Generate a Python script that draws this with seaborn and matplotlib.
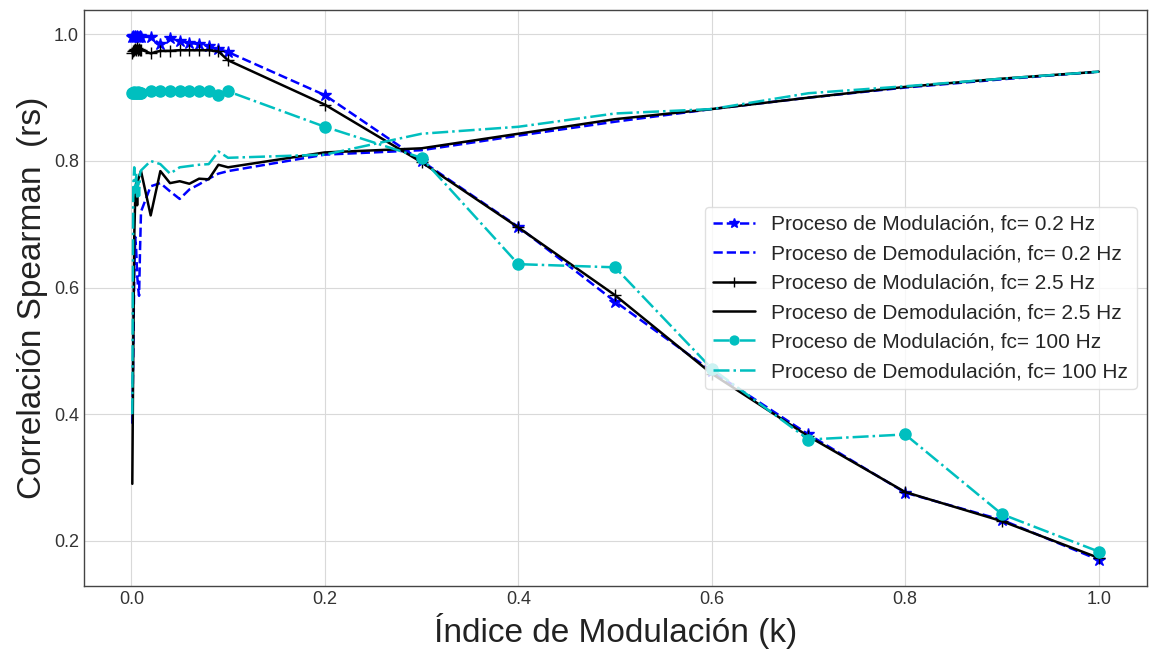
import numpy as np
import pandas as pd
import matplotlib
matplotlib.use("Agg")
import matplotlib.pyplot as plt
import seaborn as sns

# Modulation index values
k = [0.001, 0.002, 0.003, 0.004, 0.005, 0.006, 0.007, 0.008, 0.009,
     0.01, 0.02, 0.03, 0.04, 0.05, 0.06, 0.07, 0.08, 0.09,
     0.1, 0.2, 0.3, 0.4, 0.5, 0.6, 0.7, 0.8, 0.9, 1.0]

mod_02 = [0.996, 0.997, 0.996, 0.997, 0.996, 0.997, 0.996, 0.996, 0.997,
          0.996, 0.996, 0.984, 0.994, 0.990, 0.986, 0.985, 0.981, 0.977,
          0.972, 0.904, 0.800, 0.696, 0.578, 0.468, 0.368, 0.276, 0.233, 0.170]
dem_02 = [0.385, 0.500, 0.620, 0.680, 0.660, 0.620, 0.600, 0.587, 0.660,
          0.720, 0.760, 0.765, 0.752, 0.740, 0.755, 0.763, 0.772, 0.780,
          0.784, 0.810, 0.817, 0.840, 0.862, 0.882, 0.900, 0.916, 0.929, 0.941]
mod_25 = [0.970, 0.974, 0.976, 0.977, 0.975, 0.978, 0.976, 0.977, 0.975,
          0.976, 0.970, 0.974, 0.974, 0.975, 0.975, 0.975, 0.975, 0.973,
          0.959, 0.889, 0.798, 0.695, 0.588, 0.464, 0.365, 0.277, 0.231, 0.173]
dem_25 = [0.290, 0.500, 0.680, 0.740, 0.765, 0.730, 0.770, 0.775, 0.780,
          0.784, 0.714, 0.784, 0.765, 0.768, 0.764, 0.772, 0.771, 0.794,
          0.790, 0.8135, 0.820, 0.843, 0.866, 0.882, 0.900, 0.917, 0.930, 0.941]
mod_100 = [0.907, 0.908, 0.909, 0.908, 0.907, 0.908, 0.909, 0.908, 0.908,
           0.908, 0.910, 0.910, 0.910, 0.910, 0.910, 0.911, 0.910, 0.904,
           0.910, 0.854, 0.805, 0.637, 0.632, 0.472, 0.360, 0.368, 0.242, 0.183]
dem_100 = [0.400, 0.760, 0.790, 0.750, 0.780, 0.740, 0.770, 0.745, 0.780,
           0.785, 0.800, 0.795, 0.780, 0.790, 0.792, 0.794, 0.795, 0.815,
           0.805, 0.810, 0.843, 0.854, 0.875, 0.882, 0.907, 0.918, 0.930, 0.941]

labels = ["Proceso de Modulación, fc= 0.2 Hz",
          "Proceso de Demodulación, fc= 0.2 Hz",
          "Proceso de Modulación, fc= 2.5 Hz",
          "Proceso de Demodulación, fc= 2.5 Hz",
          "Proceso de Modulación, fc= 100 Hz",
          "Proceso de Demodulación, fc= 100 Hz"]

sns.set_style("whitegrid", {"axes.edgecolor": ".25", "grid.color": ".85"})
plt.rcParams["font.family"] = ["Liberation Sans", "DejaVu Sans"]

fig = plt.figure(figsize=(11.6, 6.5), dpi=100)
ax = fig.add_axes([0.0724, 0.0985, 0.9164, 0.886])

series = [
    (mod_02, dict(color="blue", linestyle="--", marker="*", markersize=9,
                  markeredgecolor="blue", markerfacecolor="blue")),
    (dem_02, dict(color="blue", linestyle="--")),
    (mod_25, dict(color="black", linestyle="-", marker="+", markersize=9,
                  markeredgecolor="black", markerfacecolor="black")),
    (dem_25, dict(color="black", linestyle="-")),
    (mod_100, dict(color="c", linestyle="-.", marker="o", markersize=8,
                   markeredgecolor="c", markerfacecolor="c")),
    (dem_100, dict(color="c", linestyle="-.")),
]

for (vals, style), lab in zip(series, labels):
    df = pd.DataFrame({"k": k, "rs": vals})
    sns.lineplot(data=df, x="k", y="rs", ax=ax, label=lab, sort=False,
                 estimator=None, linewidth=1.8, markeredgewidth=1.0,
                 **style)

ax.margins(x=0.05, y=0.05)
ax.set_xlabel("Índice de Modulación (k)", fontsize=24, color="#222222")
ax.set_ylabel("Correlación Spearman  (rs)", fontsize=24, color="#222222")
ax.set_xticks([0.0, 0.2, 0.4, 0.6, 0.8, 1.0])
ax.set_yticks([0.2, 0.4, 0.6, 0.8, 1.0])
ax.tick_params(axis="both", labelsize=13, colors="#333333", length=0)
for s in ax.spines.values():
    s.set_color("#444444")
    s.set_linewidth(1.0)

leg = ax.legend(loc="center right", fontsize=15, frameon=True, markerscale=0.8)
leg.get_frame().set_edgecolor(".85")

fig.savefig("out.png", dpi=100)
